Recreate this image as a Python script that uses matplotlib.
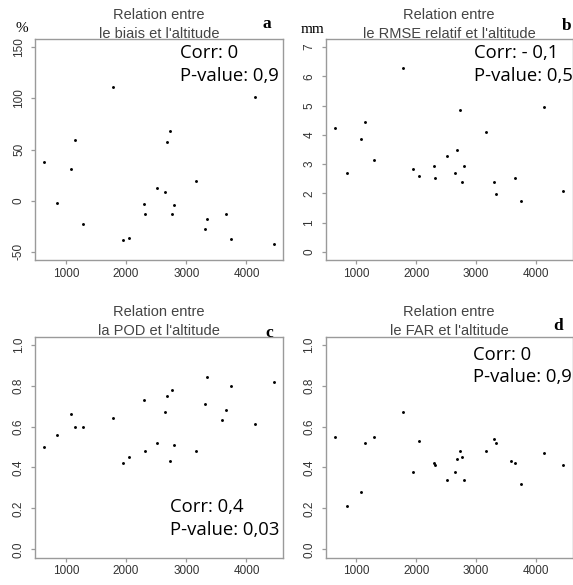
import numpy as np
import matplotlib
matplotlib.use("Agg")
import matplotlib.pyplot as plt

nan = np.nan
altitude = [641, 851, 1088, 1155, 1293, 1779, 1945, 2050, 2294, 2315, 2514, 2653,
            2675, 2733, 2763, 2791, 3167, 3305, 3338, 3587, 3653, 3748, 4138, 4454]
biais = [37.5, -2.2, 31.3, 59.3, -22.4, 111.3, -38.3, -36.7, -3.4, -13.5, 12.8, 8.5,
         57.3, 67.7, -13.5, -4.6, 19.3, -27.9, -18.4, nan, -12.9, -37.6, 100.9, -42.2]
rmse = [4.22, 2.68, 3.85, 4.43, 3.15, 6.28, 2.82, 2.58, 2.94, 2.54, 3.28, 2.71,
        3.47, 4.85, 2.38, 2.92, 4.11, 2.38, 1.98, nan, 2.54, 1.75, 4.94, 2.08]
pod = [0.50, 0.56, 0.66, 0.60, 0.60, 0.64, 0.42, 0.45, 0.73, 0.48, 0.52, 0.67,
       0.75, 0.43, 0.78, 0.51, 0.48, 0.71, 0.84, 0.63, 0.68, 0.80, 0.61, 0.82]
far = [0.55, 0.21, 0.28, 0.52, 0.55, 0.67, 0.38, 0.53, 0.42, 0.41, 0.34, 0.38,
       0.44, 0.48, 0.45, 0.34, 0.48, 0.54, 0.52, 0.43, 0.42, 0.32, 0.47, 0.41]

titles = ["le biais et l'altitude", "le RMSE relatif et l'altitude",
          "la POD et l'altitude", "le FAR et l'altitude"]
letters = ["a", "b", "c", "d"]
units = ["%", "mm", "", ""]
corr_txt = ["Corr: 0", "Corr: - 0,1", "Corr: 0,4", "Corr: 0"]
pval_txt = ["P-value: 0,9", "P-value: 0,5", "P-value: 0,03", "P-value: 0,9"]
x_ticks = [1000, 2000, 3000, 4000]
y_ticks_list = [[-50, 0, 50, 100, 150], [0, 1, 2, 3, 4, 5, 6, 7],
                [0.0, 0.2, 0.4, 0.6, 0.8, 1.0], [0.0, 0.2, 0.4, 0.6, 0.8, 1.0]]
y_ticklabels_list = [["-50", "0", "50", "100", "150"], [str(v) for v in range(8)],
                     ["0.0", "0.2", "0.4", "0.6", "0.8", "1.0"],
                     ["0.0", "0.2", "0.4", "0.6", "0.8", "1.0"]]
series = [biais, rmse, pod, far]

W, H = 573, 585
fig = plt.figure(figsize=(W / 100, H / 100), dpi=100)
fig.patch.set_facecolor("white")

# pixel boxes (left, top, width, height)
boxes = [(35, 39, 248, 221), (325.5, 39, 247, 221),
         (35, 336.5, 248, 221), (325.5, 336.5, 247, 221)]

def fx(px):
    return px / W

def fy(py):
    return 1 - py / H

SANS = ["Liberation Sans", "DejaVu Sans"]
SERIF = ["Liberation Serif", "DejaVu Serif"]
GRAY = "#9a9a9a"

alt = np.array(altitude, dtype=float)
xr = np.nanmax(alt) - np.nanmin(alt)
xlim = (np.nanmin(alt) - 0.04 * xr, np.nanmax(alt) + 0.04 * xr)

letter_pos = [(267, 28), (567, 30), (269, 337), (558, 330)]
unit_pos = [(22, 32), (313, 33)]
corr_pos = [(180, 58.5), (474, 58.5), (170, 512), (473, 359.5)]

for i, (l, t, w, h) in enumerate(boxes):
    ax = fig.add_axes([fx(l), fy(t + h), w / W, h / H])
    ax.plot(altitude, series[i], linestyle="none", marker="o", markersize=2.1,
            markeredgewidth=0, color="black")
    ax.set_xlim(*xlim)
    yt = y_ticks_list[i]
    yr = yt[-1] - yt[0]
    ax.set_ylim(yt[0] - 0.04 * yr, yt[-1] + 0.04 * yr)
    ax.set_xticks(x_ticks)
    ax.set_xticklabels([str(v) for v in x_ticks])
    ax.set_yticks(yt)
    ax.set_yticklabels(y_ticklabels_list[i], rotation=90, va="center")
    for s in ax.spines.values():
        s.set_color(GRAY)
        s.set_linewidth(1.0)
    ax.tick_params(axis="both", direction="out", length=3.2, width=0.9, color=GRAY,
                   labelcolor="#333333", labelsize=8.5)
    ax.tick_params(axis="x", pad=2.5)
    ax.tick_params(axis="y", pad=4.0)
    for lab in ax.get_xticklabels() + ax.get_yticklabels():
        lab.set_family(SANS)

    cx = l + w / 2
    fig.text(fx(cx), fy(t - 20), "Relation entre", ha="center", va="baseline",
             fontsize=10.5, color="#444444", family=SANS)
    fig.text(fx(cx), fy(t - 1.5), titles[i], ha="center", va="baseline",
             fontsize=10.5, color="#444444", family=SANS)
    lx, ly = letter_pos[i]
    fig.text(fx(lx), fy(ly), letters[i], ha="center", va="baseline",
             fontsize=12.5, fontweight="bold", family=SERIF, color="black")
    if units[i]:
        ux, uy = unit_pos[i]
        fig.text(fx(ux), fy(uy), units[i], ha="center", va="baseline",
                 fontsize=11, family=SERIF, color="black")
    cxp, cyp = corr_pos[i]
    fig.text(fx(cxp), fy(cyp), corr_txt[i], ha="left", va="baseline",
             fontsize=13.3, family=["Open Sans", "DejaVu Sans"], color="black")
    fig.text(fx(cxp), fy(cyp + 23), pval_txt[i], ha="left", va="baseline",
             fontsize=13.3, family=["Open Sans", "DejaVu Sans"], color="black")

fig.savefig("out.png", dpi=100, facecolor="white")
